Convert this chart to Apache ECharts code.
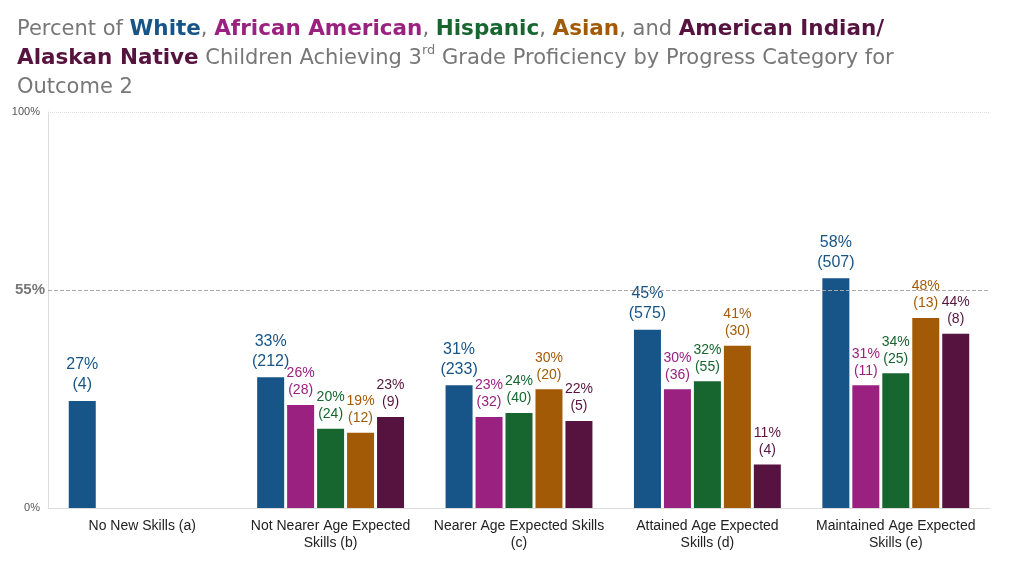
<!DOCTYPE html>
<html><head><meta charset="utf-8">
<script src="https://cdn.jsdelivr.net/npm/echarts@6/dist/echarts.min.js"></script>
<style>html,body{margin:0;padding:0;background:#fff}#c{width:1024px;height:576px}</style>
</head><body><div id="c"></div>
<script>
const categories = ['No New Skills (a)', 'Not Nearer Age Expected\nSkills (b)', 'Nearer Age Expected Skills\n(c)', 'Attained Age Expected\nSkills (d)', 'Maintained Age Expected\nSkills (e)'];
const seriesNames = ['White', 'African American', 'Hispanic', 'Asian', 'American Indian/Alaskan Native'];
const white = [27, 33, 31, 45, 58];
const whiteN = [4, 212, 233, 575, 507];
const africanAmerican = [null, 26, 23, 30, 31];
const africanAmericanN = [null, 28, 32, 36, 11];
const hispanic = [null, 20, 24, 32, 34];
const hispanicN = [null, 24, 40, 55, 25];
const asian = [null, 19, 30, 41, 48];
const asianN = [null, 12, 20, 30, 13];
const amIndian = [null, 23, 22, 11, 44];
const amIndianN = [null, 9, 5, 4, 8];
const referenceLine = 55;
const yTicks = [0, 100];

const colors = ['#175487', '#9b2180', '#17652f', '#a35a07', '#57133f'];
const values = [white, africanAmerican, hispanic, asian, amIndian];
const counts = [whiteN, africanAmericanN, hispanicN, asianN, amIndianN];

const chart = echarts.init(document.getElementById('c'));
const series = values.map((vals, i) => ({
  name: seriesNames[i],
  type: 'bar',
  barWidth: 27,
  barGap: '11%',
  data: vals,
  itemStyle: { color: colors[i] },
  label: {
    show: true,
    position: 'top',
    distance: 6,
    color: colors[i],
    fontFamily: 'Liberation Sans, Arial, sans-serif',
    fontSize: i === 0 ? 16 : 14,
    lineHeight: i === 0 ? 20 : 17,
    formatter: p => p.value == null ? '' : p.value + '%\n(' + counts[i][p.dataIndex] + ')'
  },
  markLine: i === 0 ? {
    symbol: 'none',
    silent: true,
    lineStyle: { type: 'dashed', color: '#aaa', width: 1 },
    label: { position: 'start', formatter: referenceLine + '%', color: '#777', fontSize: 15, fontWeight: 'bold', fontFamily: 'Liberation Sans, Arial, sans-serif', distance: 3 },
    data: [{ yAxis: referenceLine }]
  } : undefined
}));

const base = { fontFamily: 'DejaVu Sans', lineHeight: 29 };
chart.setOption({
  animation: false,
  title: {
    left: 12, top: 10,
    text: '{g|Percent of }{w|White}{g|, }{a|African American}{g|, }{h|Hispanic}{g|, }{s|Asian}{g|, and }{i|American Indian/}\n{i|Alaskan Native}{g| Children Achieving 3}{sup|rd}{g| Grade Proficiency by Progress Category for}\n{g|Outcome 2}',
    textStyle: {
      fontWeight: 'normal',
      rich: {
        g: Object.assign({ color: '#777', fontWeight: 'normal', fontSize: 21 }, base),
        w: Object.assign({ color: colors[0], fontWeight: 'bold', fontSize: 21.5 }, base),
        a: Object.assign({ color: colors[1], fontWeight: 'bold', fontSize: 21.5 }, base),
        h: Object.assign({ color: colors[2], fontWeight: 'bold', fontSize: 21.5 }, base),
        s: Object.assign({ color: colors[3], fontWeight: 'bold', fontSize: 21.5 }, base),
        i: Object.assign({ color: colors[4], fontWeight: 'bold', fontSize: 21.5 }, base),
        sup: { color: '#777', fontWeight: 'normal', fontSize: 13, fontFamily: 'DejaVu Sans', verticalAlign: 'top', padding: [0, 0, 8, 0] }
      }
    }
  },
  grid: { left: 48, right: 34, top: 112, bottom: 68 },
  xAxis: {
    type: 'category',
    data: categories,
    axisLine: { lineStyle: { color: '#ddd' } },
    axisTick: { show: false },
    axisLabel: { color: '#222', fontSize: 14, lineHeight: 17, fontFamily: 'Liberation Sans, Arial, sans-serif', margin: 10, interval: 0 }
  },
  yAxis: {
    type: 'value',
    min: yTicks[0], max: yTicks[1], interval: 100,
    axisLine: { show: true, lineStyle: { color: '#ddd' } },
    axisTick: { show: false },
    axisLabel: { color: '#555', fontSize: 11, formatter: v => v + '%', fontFamily: 'Liberation Sans, Arial, sans-serif', margin: 8 },
    splitLine: { show: true, lineStyle: { type: 'dotted', color: '#ddd' } }
  },
  series: series
});
</script></body></html>
